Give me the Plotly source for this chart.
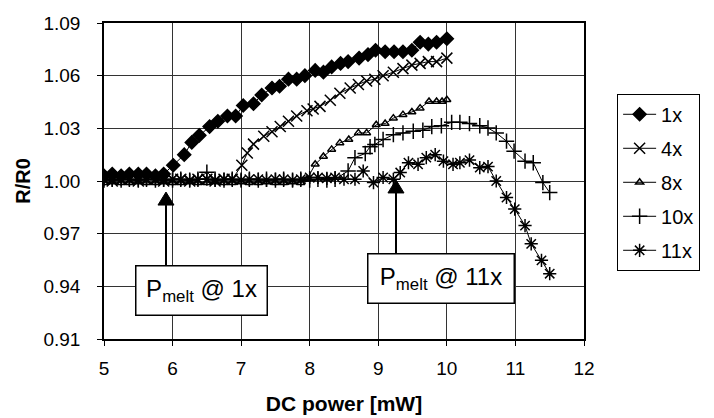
import plotly.graph_objects as go

# Resistance ratio R/R0 versus DC heater power for several pulse counts
flat_x = [5.00, 5.12, 5.25, 5.37, 5.50, 5.62, 5.75, 5.87, 6.00, 6.12, 6.25, 6.37,
          6.50, 6.62, 6.75, 6.87, 7.00, 7.12, 7.25, 7.37, 7.50, 7.62, 7.75, 7.87,
          8.00, 8.12, 8.25, 8.37, 8.50]

x_1x = [5.00, 5.12, 5.25, 5.37, 5.50, 5.62, 5.75, 5.87, 6.01, 6.17, 6.28, 6.39,
        6.54, 6.66, 6.80, 6.92, 7.03, 7.18, 7.30, 7.45, 7.56, 7.69, 7.81, 7.93,
        8.08, 8.20, 8.32, 8.45, 8.56, 8.72, 8.85, 8.96, 9.10, 9.23, 9.36, 9.49,
        9.61, 9.73, 9.85, 10.00]
y_1x = [1.003, 1.004, 1.003, 1.004, 1.004, 1.004, 1.003, 1.004, 1.009, 1.015, 1.022, 1.026,
        1.031, 1.034, 1.037, 1.037, 1.043, 1.044, 1.049, 1.053, 1.054, 1.058, 1.058, 1.060,
        1.063, 1.062, 1.065, 1.067, 1.068, 1.070, 1.072, 1.0745, 1.0736, 1.0736, 1.0736, 1.0745,
        1.079, 1.078, 1.079, 1.081]

x_4x = flat_x[:16] + [7.01, 7.09, 7.18, 7.33, 7.45, 7.57, 7.69, 7.81, 7.96, 8.05, 8.15,
                      8.30, 8.44, 8.59, 8.71, 8.83, 8.95, 9.07, 9.22, 9.36, 9.49, 9.61,
                      9.73, 9.85, 10.00]
y_4x = [1.001, 1.000, 1.001, 1.001, 1.000, 1.001, 1.001, 1.000, 1.001, 1.001, 1.000, 1.001,
        1.001, 1.000, 1.001, 1.001,
        1.009, 1.016, 1.021, 1.0255, 1.028, 1.031, 1.034, 1.037, 1.040, 1.041, 1.0425,
        1.046, 1.050, 1.053, 1.055, 1.057, 1.058, 1.060, 1.062, 1.064, 1.066, 1.067,
        1.068, 1.068, 1.070]

x_8x = flat_x[:24] + [7.96, 8.08, 8.20, 8.32, 8.44, 8.57, 8.71, 8.83, 8.97, 9.10, 9.22,
                      9.36, 9.49, 9.61, 9.74, 9.85, 9.93, 10.00]
y_8x = [0.999, 0.9995, 0.999, 0.999, 0.9995, 0.999, 0.999, 0.9995, 0.999, 0.999, 0.9995, 0.999,
        0.999, 0.9995, 0.999, 0.999, 0.9995, 0.999, 0.999, 0.9995, 0.999, 0.999, 0.9995, 0.999,
        1.001, 1.0095, 1.014, 1.018, 1.0217, 1.0236, 1.0274, 1.0274, 1.032, 1.0327, 1.0358,
        1.0378, 1.0393, 1.0415, 1.0453, 1.0453, 1.0453, 1.0463]

x_10x = flat_x[:28] + [8.56, 8.66, 8.81, 8.88, 8.95, 9.07, 9.22, 9.36, 9.51, 9.65, 9.78,
                       9.92, 10.07, 10.19, 10.33, 10.48, 10.60, 10.72, 10.87, 10.98, 11.14,
                       11.26, 11.40, 11.50]
y_10x = [1.0005, 1.001, 1.0005, 1.001, 1.0005, 1.001, 1.0005, 1.001, 1.0005, 1.001, 1.0005, 1.001,
         1.005, 1.001, 1.0005, 1.001, 1.0005, 1.001, 1.0005, 1.001, 1.0005, 1.001, 1.0005, 1.001,
         1.0005, 1.001, 1.0005, 1.001,
         1.0057, 1.0133, 1.0157, 1.0195, 1.0208, 1.0236, 1.0264, 1.0274, 1.0283, 1.0289, 1.031,
         1.0315, 1.0334, 1.0334, 1.0327, 1.0315, 1.0302, 1.0274, 1.0227, 1.017, 1.0113,
         1.0104, 0.9991, 0.9934]

x_11x = flat_x + [8.66, 8.78, 8.93, 9.07, 9.22, 9.32, 9.44, 9.58, 9.70, 9.83, 9.95, 10.09,
                  10.19, 10.33, 10.48, 10.60, 10.72, 10.87, 10.99, 11.14, 11.23, 11.38, 11.50]
y_11x = [1.001, 1.0005, 1.001, 1.001, 1.0005, 1.001, 1.001, 1.0005, 1.001, 1.001, 1.0005, 1.001,
         1.001, 1.0005, 1.001, 1.001, 1.0005, 1.001, 1.001, 1.0005, 1.001, 1.001, 1.0005, 1.001,
         1.002, 1.002, 1.0015, 1.002, 1.001,
         1.001, 1.0057, 0.9991, 1.002, 1.001, 1.0048, 1.0104, 1.0095, 1.0133, 1.015, 1.0113,
         1.0095, 1.0104, 1.0119, 1.0076, 1.0082, 1.000, 0.9906, 0.984, 0.9746, 0.9642,
         0.9548, 0.9472]

series_names = ["1x", "4x", "8x", "10x", "11x"]
series_x = [x_1x, x_4x, x_8x, x_10x, x_11x]
series_y = [y_1x, y_4x, y_8x, y_10x, y_11x]
symbols = ["diamond", "x-thin-open", "triangle-up-open", "cross-thin-open", "asterisk-open"]
sizes = [10, 11, 7, 11, 11]

x_ticks = [5, 6, 7, 8, 9, 10, 11, 12]
y_ticks = [0.91, 0.94, 0.97, 1.00, 1.03, 1.06, 1.09]

FONT = "Liberation Sans, Arial, sans-serif"

fig = go.Figure()
for name, xs, ys, sym, sz in zip(series_names, series_x, series_y, symbols, sizes):
    fig.add_trace(go.Scatter(
        x=xs, y=ys, name=name, mode="lines+markers", legendgroup=name,
        line=dict(color="black", width=1),
        marker=dict(symbol=sym, size=sz, color="black",
                    line=dict(color="black", width=1.5)),
    ))

# Melting-point call-outs: boxed labels with upward arrows
callouts = [
    dict(text="P<sub>melt</sub> @ 1x", bx=6.42, by=0.9379, w=128, h=46,
         ax=5.904, tip=0.9937, base=0.9863, top=0.9516),
    dict(text="P<sub>melt</sub> @ 11x", bx=9.915, by=0.9442, w=143, h=46,
         ax=9.258, tip=1.0006, base=0.9932, top=0.9578),
]
half_w = 0.117
shapes = []
annotations = []
for c in callouts:
    shapes.append(dict(type="line", xref="x", yref="y", x0=c["ax"], x1=c["ax"],
                       y0=c["top"], y1=c["base"], line=dict(color="black", width=2)))
    shapes.append(dict(type="path", xref="x", yref="y",
                       path=f"M{c['ax']},{c['tip']} L{c['ax'] - half_w},{c['base']} "
                            f"L{c['ax'] + half_w},{c['base']} Z",
                       fillcolor="black", line=dict(color="black", width=1)))
    annotations.append(dict(x=c["bx"], y=c["by"], xref="x", yref="y", text=c["text"],
                            showarrow=False, bgcolor="white", bordercolor="black",
                            borderwidth=1.5, width=c["w"], height=c["h"],
                            font=dict(family=FONT, size=24, color="black")))

fig.update_layout(
    width=714, height=418,
    margin=dict(l=104, r=130, t=23, b=79),
    paper_bgcolor="white", plot_bgcolor="white",
    font=dict(family=FONT, color="black"),
    shapes=shapes, annotations=annotations,
    legend=dict(x=1.069, y=0.776, xanchor="left", yanchor="top",
                bordercolor="black", borderwidth=1, bgcolor="white",
                font=dict(family=FONT, size=20, color="black"),
                itemwidth=33,
                traceorder="grouped", tracegroupgap=5),
    xaxis=dict(range=[5, 12], tickvals=x_ticks, ticks="outside", ticklen=5,
               tickcolor="black", showgrid=True, gridcolor="#333", gridwidth=1,
               showline=True, linecolor="black", linewidth=1.5, mirror=True,
               zeroline=False, tickfont=dict(size=19), ticklabelstandoff=6,
               automargin=False,
               title=dict(text="<b>DC power [mW]</b>", font=dict(size=21), standoff=19)),
    yaxis=dict(range=[0.91, 1.09], tickvals=y_ticks, tickformat=".2f",
               ticks="outside", ticklen=5, tickcolor="black",
               showgrid=True, gridcolor="#333", gridwidth=1,
               showline=True, linecolor="black", linewidth=1.5, mirror=True,
               zeroline=False, tickfont=dict(size=19), ticklabelstandoff=13,
               automargin=False,
               title=dict(text="<b>R/R0</b>", font=dict(size=20), standoff=7)),
)

fig.write_html("out.html")
